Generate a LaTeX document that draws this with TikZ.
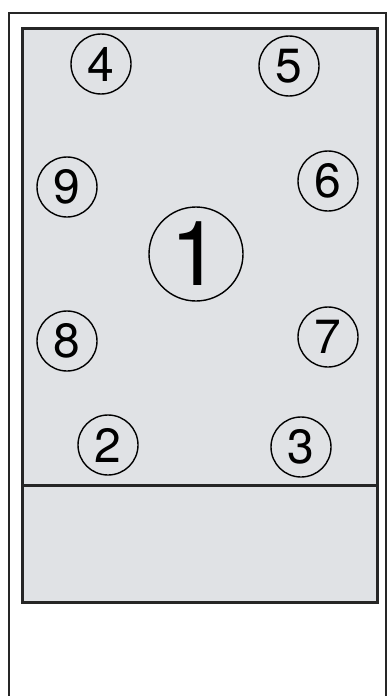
\documentclass[tikz,border=0pt]{standalone}
\usepackage{fontspec}
\setmainfont{TeX Gyre Heros}
\usepackage{tikz}
\usetikzlibrary{positioning}
\definecolor{panelgray}{RGB}{224,226,229}

\begin{document}
\begin{tikzpicture}[
        x=0.5pt, y=-0.5pt,
        frame/.style={draw=black!85, line width=1pt},
        panel/.style={draw=black!85, line width=1.5pt, fill=panelgray},
        num/.style={draw, circle, line width=0.7pt, minimum size=30pt, inner sep=0pt, font=\fontsize{24}{24}\selectfont},
        bignum/.style={num, minimum size=47pt, font=\fontsize{45}{45}\selectfont}
    ]
        \useasboundingbox (0,0) rectangle (388,696);
        % outer frame (open at the bottom)
        \draw[frame] (9,696) -- (9,13) -- (386,13) -- (386,696);
        % panel with lower compartment
        \draw[panel] (22,28) rectangle (377,602);
        \draw[draw=black!85, line width=1.5pt] (22,485) -- (377,485);

        \node[bignum] (n1) at (196,254) {1};
        \node[num] (n2) at (108,445) {2};
        \node[num] (n3) at (301,447) {3};
        \node[num] (n4) at (101,64) {4};
        \node[num] (n5) at (289,66) {5};
        \node[num] (n6) at (328,181) {6};
        \node[num] (n7) at (328,337) {7};
        \node[num] (n8) at (67,341) {8};
        \node[num] (n9) at (67,187) {9};
    \end{tikzpicture}
\end{document}
